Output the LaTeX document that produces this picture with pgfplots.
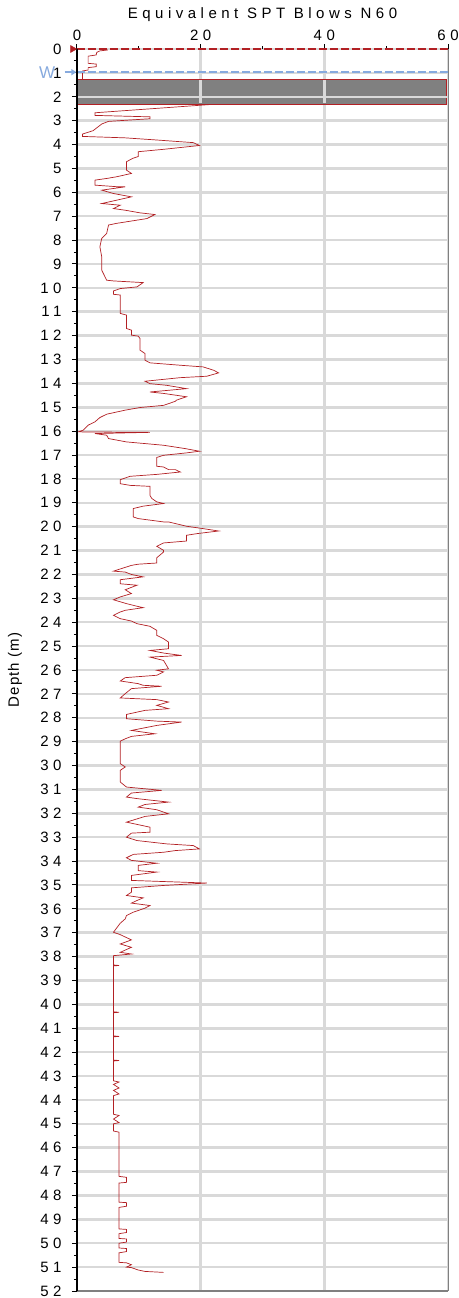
\documentclass[border=0pt]{standalone}
\usepackage{fontspec}
\setmainfont{Liberation Sans}
\newfontfamily\spacedfont[LetterSpace=30]{Liberation Sans}
\newfontfamily\lightspaced[LetterSpace=8]{Liberation Sans}
\usepackage{pgfplots}
\pgfplotsset{compat=1.18}
\usetikzlibrary{arrows.meta}
\definecolor{trace}{RGB}{178,32,36}
\definecolor{gridgray}{RGB}{217,217,217}
\definecolor{boxgray}{RGB}{128,128,128}
\definecolor{water}{RGB}{135,170,222}
\begin{document}
\begin{tikzpicture}
\begin{axis}[name=ax, scale only axis, width=371pt, height=1242pt,
 xmin=0, xmax=60, ymin=0, ymax=52, y dir=reverse,
 xtick={0,20,40,60}, minor xtick={10,30,50},
 ytick={0,...,52}, minor ytick={0.5,1.5,...,51.5},
 xtick pos=right, xticklabel pos=right, ytick pos=left,
 tick align=outside, major tick length=5pt, minor tick length=3pt,
 tick style={black, line width=1pt},
 grid=major, major grid style={gridgray, line width=2.5pt},
 axis line style={draw=none},
 tick label style={font=\fontsize{15}{17}\selectfont\spacedfont},
 yticklabel style={xshift=-7pt},
 /pgf/number format/assume math mode=true,
 title={Equivalent SPT Blows N60},
 title style={font=\fontsize{15}{17}\selectfont\spacedfont, at={(axis description cs:0.5,1)}, anchor=center, yshift=28pt},
 ylabel={Depth (m)},
 ylabel style={font=\fontsize{15}{17}\selectfont\lightspaced, at={(axis description cs:-0.167,0.5)}, anchor=center},
 clip=false,
]
% trace above the pre-drilled zone
\addplot[trace, line width=0.7pt] coordinates {
(5.0,0.04) (3.7,0.08) (3.2,0.14) (3.1,0.25) (1.8,0.30) (1.8,0.60) (3.1,0.63) (3.1,0.74) (1.8,0.78) (1.8,0.88) (0.9,0.92) (0.9,1.27)};
% main trace
\addplot[trace, line width=0.7pt] coordinates {
(22.9,2.30) (2.9,2.67) (2.9,2.78) (11.8,2.84) (11.8,2.92) (5.1,3.03) (4.0,3.14) (2.6,3.42) (0.9,3.56) (0.9,3.66) (7.8,3.72) (12.9,3.81) (18.8,3.92) (19.8,4.04) (14.0,4.2) (9.9,4.3) (9.9,4.5) (9.0,4.58) (8.0,4.72) (8.0,5.07) (8.8,5.21) (6.4,5.35) (4.8,5.42) (2.9,5.49) (2.9,5.7) (6.7,5.77) (7.8,5.77) (4.0,5.91) (5.9,6.05) (8.8,6.19) (4.0,6.47) (7.0,6.54) (5.9,6.68) (7.8,6.75) (10.2,6.86) (12.6,6.93) (11.3,7.1) (6.4,7.3) (5.1,7.37) (4.8,7.72) (4.0,7.93) (3.7,8.28) (4.0,8.7) (4.0,9.26) (4.8,9.68) (5.9,9.71) (10.7,9.78) (9.7,9.96) (7.0,10.03) (5.9,10.13) (5.9,10.27) (7.0,10.3) (7.0,11.07) (8.0,11.14) (8.0,11.7) (8.8,11.77) (8.8,11.98) (9.9,12.02) (10.2,12.12) (10.2,12.61) (11.0,12.75) (11.0,13.03) (11.8,13.14) (16.7,13.24) (20.4,13.31) (22.1,13.45) (22.9,13.56) (21.0,13.7) (16.7,13.76) (11.0,13.91) (11.8,14.01) (14.5,14.08) (17.7,14.22) (11.8,14.36) (14.0,14.42) (17.7,14.56) (16.1,14.7) (15.9,14.75) (14.0,14.92) (10.2,15.01) (7.8,15.12) (4.8,15.29) (3.7,15.43) (2.9,15.61) (1.8,15.75) (1.0,15.96) (0.2,16.03) (11.8,16.05) (2.9,16.1) (4.8,16.17) (5.1,16.31) (8.0,16.45) (14.0,16.59) (17.5,16.73) (19.8,16.84) (17.7,16.91) (14.0,17.01) (12.9,17.1) (12.9,17.47) (14.0,17.5) (14.8,17.61) (15.9,17.61) (16.7,17.71) (12.9,17.81) (8.6,17.89) (7.0,18.03) (7.0,18.2) (8.6,18.27) (11.8,18.31) (11.8,18.69) (12.1,18.82) (12.9,18.96) (14.0,19.03) (10.7,19.14) (9.1,19.24) (9.1,19.59) (9.9,19.66) (14.0,19.8) (14.8,19.8) (17.7,19.98) (20.4,20.08) (22.9,20.18) (19.4,20.29) (17.7,20.36) (17.7,20.6) (14.0,20.68) (12.9,20.82) (14.0,20.99) (14.0,21.06) (12.9,21.3) (12.9,21.52) (9.9,21.57) (8.8,21.62) (5.9,21.86) (7.8,21.9) (8.8,22.0) (10.7,22.1) (7.0,22.22) (7.0,22.39) (9.7,22.45) (7.8,22.64) (8.8,22.8) (7.0,22.94) (5.9,23.06) (8.0,23.22) (9.7,23.33) (10.7,23.39) (7.8,23.5) (7.0,23.57) (5.9,23.71) (7.0,23.85) (8.8,23.95) (9.7,24.06) (11.8,24.17) (12.9,24.34) (12.9,24.55) (14.0,24.69) (14.8,24.83) (14.8,25.11) (11.8,25.18) (14.0,25.29) (16.9,25.39) (11.8,25.46) (14.0,25.6) (14.8,25.95) (12.9,26.01) (14.0,26.08) (12.9,26.22) (7.8,26.32) (7.0,26.46) (9.9,26.57) (10.7,26.64) (13.7,26.68) (8.8,26.78) (7.8,26.99) (7.0,27.17) (12.9,27.24) (14.8,27.34) (12.9,27.48) (14.8,27.62) (11.0,27.69) (8.0,27.86) (8.0,28.04) (12.9,28.14) (16.9,28.18) (12.9,28.32) (8.8,28.53) (12.6,28.67) (8.8,28.78) (7.8,28.88) (7.0,28.98) (7.0,29.92) (7.8,30.06) (7.0,30.2) (7.0,30.69) (8.0,30.9) (13.7,31.04) (8.8,31.15) (8.0,31.32) (9.9,31.39) (14.8,31.53) (11.0,31.63) (9.9,31.74) (12.9,31.85) (14.8,32.02) (11.0,32.13) (8.0,32.37) (11.8,32.58) (11.8,32.79) (8.8,32.83) (8.0,33.0) (9.7,33.14) (14.5,33.28) (18.8,33.35) (19.8,33.49) (15.9,33.56) (14.0,33.63) (9.1,33.72) (8.0,33.86) (8.8,33.97) (12.9,34.09) (9.9,34.18) (9.9,34.4) (12.9,34.46) (8.8,34.6) (8.8,34.81) (16.7,34.88) (21.0,34.92) (14.0,35.02) (8.8,35.12) (8.8,35.3) (8.0,35.44) (10.7,35.54) (9.7,35.65) (8.8,35.76) (11.8,35.86) (11.0,35.97) (9.1,36.14) (8.0,36.28) (7.8,36.42) (7.0,36.6) (5.9,36.98) (7.0,37.08) (8.8,37.3) (7.0,37.47) (8.8,37.61) (7.0,37.82) (8.8,37.89) (5.9,37.96) (5.9,38.35) (6.8,38.37) (5.9,38.39) (5.9,40.31) (6.8,40.33) (5.9,40.35) (5.9,41.32) (6.8,41.34) (5.9,41.36) (5.9,42.33) (6.8,42.35) (5.9,42.37) (5.9,43.2) (6.8,43.25) (5.9,43.35) (6.8,43.5) (5.9,43.6) (6.8,43.75) (5.9,43.82) (5.9,44.6) (6.8,44.65) (5.9,44.8) (6.8,44.95) (5.9,45.0) (5.9,45.3) (6.8,45.35) (6.8,47.2) (8.0,47.24) (8.0,47.45) (6.8,47.48) (6.8,48.28) (8.0,48.3) (8.0,48.45) (6.8,48.5) (6.8,49.4) (8.0,49.42) (8.0,49.55) (6.8,49.6) (6.8,49.8) (8.0,49.82) (8.0,49.95) (6.8,50.0) (6.8,50.2) (8.0,50.22) (8.0,50.35) (6.8,50.4) (6.8,50.8) (8.0,50.82) (8.8,50.9) (8.0,51.0) (8.8,51.02) (9.9,51.12) (11.0,51.18) (14.0,51.22)};
% pre-drilled zone
\addplot[fill=boxgray, draw=trace, line width=0.6pt] coordinates {(0,1.27) (59.8,1.27) (59.8,2.30) (0,2.30)} -- cycle;
\addplot[gridgray, line width=2.5pt] coordinates {(0,2) (59.8,2)};
\addplot[gridgray, line width=2.5pt] coordinates {(20,1.29) (20,2.28)};
\addplot[gridgray, line width=2.5pt] coordinates {(40,1.29) (40,2.28)};
% water table
\addplot[water, line width=1.5pt, dash pattern=on 8pt off 3pt] coordinates {(0,0.97) (60,0.97)};
\addplot[water, line width=1.5pt, -{Triangle[length=5pt,width=6pt]}] coordinates {(-2.0,0.97) (-0.1,0.97)};
\node[text=water, font=\fontsize{17}{19}\selectfont, anchor=east, inner sep=0pt] at (axis cs:-3.5,0.97) {W};
% ground surface
\addplot[trace, line width=1.5pt, dash pattern=on 8pt off 3pt] coordinates {(0,0) (60,0)};
\addplot[only marks, mark=triangle*, mark size=4pt, color=trace, mark options={rotate=-90}] coordinates {(-0.7,0)};
% axis borders
\draw[gray, line width=1pt] (axis cs:60,0) -- (axis cs:60,52);
\draw[gray, line width=1.2pt] (axis cs:0,52) -- (axis cs:60,52);
\draw[black, line width=1.5pt] (axis cs:0,0) -- (axis cs:0,52);
\end{axis}
\pgfresetboundingbox
\path ([shift={(-77pt,-7pt)}]ax.south west) rectangle ([shift={(11pt,49pt)}]ax.north east);
\end{tikzpicture}
\end{document}
